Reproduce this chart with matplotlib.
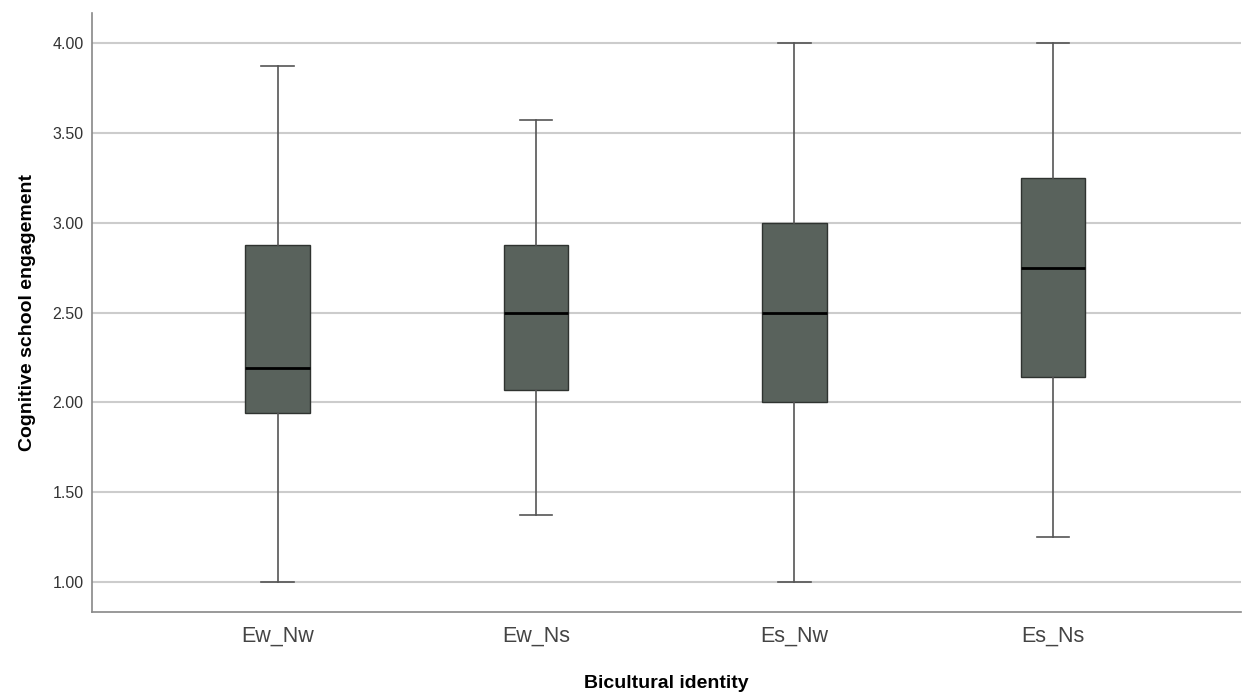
import matplotlib
matplotlib.use("Agg")
import matplotlib.pyplot as plt

plt.rcParams["font.family"] = ["Liberation Sans", "DejaVu Sans"]

groups = ["Ew_Nw", "Ew_Ns", "Es_Nw", "Es_Ns"]
whislo = [1.00, 1.375, 1.00, 1.25]
q1 = [1.94, 2.07, 2.00, 2.14]
med = [2.19, 2.50, 2.50, 2.75]
q3 = [2.875, 2.875, 3.00, 3.25]
whishi = [3.875, 3.57, 4.00, 4.00]
yticks = [1.0, 1.5, 2.0, 2.5, 3.0, 3.5, 4.0]

stats = []
for i, g in enumerate(groups):
    stats.append(dict(label=g, whislo=whislo[i], q1=q1[i], med=med[i],
                      q3=q3[i], whishi=whishi[i], fliers=[]))

fig = plt.figure(figsize=(12.43, 6.94), dpi=100)
ax = fig.add_axes([0.074, 0.118, 0.924, 0.863])

ax.bxp(stats, positions=range(len(groups)), widths=0.25, patch_artist=True,
       showfliers=False, capwidths=0.125,
       boxprops=dict(facecolor="#59625c", edgecolor="#2f3330", linewidth=1),
       medianprops=dict(color="black", linewidth=2),
       whiskerprops=dict(color="#555555", linewidth=1.2),
       capprops=dict(color="#555555", linewidth=1.2))

ax.set_xlim(-0.718, 3.726)
ax.set_ylim(0.833, 4.167)
ax.set_yticks(yticks)
ax.set_yticklabels([f"{v:.2f}" for v in yticks], fontsize=11.5, color="#333333")
ax.set_xticklabels(groups, fontsize=15.5, color="#444444")
ax.tick_params(length=0, pad=6)
ax.tick_params(axis="x", pad=10)

ax.grid(axis="y", color="#cccccc", linewidth=1.5)
ax.set_axisbelow(True)
for s in ["top", "right"]:
    ax.spines[s].set_visible(False)
for s in ["left", "bottom"]:
    ax.spines[s].set_color("#888888")
    ax.spines[s].set_linewidth(1.2)

ax.set_ylabel("Cognitive school engagement", fontsize=14, fontweight="bold", labelpad=12)
ax.set_xlabel("Bicultural identity", fontsize=14, fontweight="bold", labelpad=20)

fig.savefig("out.png", dpi=100)
